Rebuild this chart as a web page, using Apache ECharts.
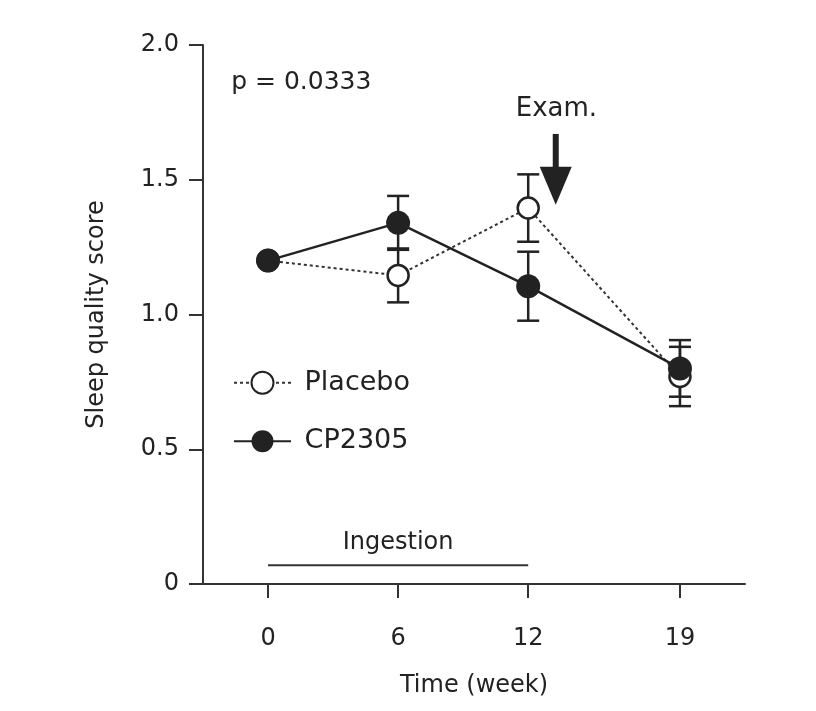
<!DOCTYPE html>
<html>
 <head>
  <title>Sleep quality score</title>
  <script src="https://cdn.jsdelivr.net/npm/echarts@6/dist/echarts.min.js"></script>
  <style>
    html, body, #container {
    width: 100%;
    height: 100%;
    margin: 0;
    padding: 0;
    background: #fff;
    }
  </style>
 </head>

<body>
  <div id="container"></div>
  <script>
    var weeks = [0, 6, 12, 19];
    var weekTicks = [0, 6, 12, 19];
    var placeboMean = [1.20, 1.145, 1.395, 0.77];
    var placeboSem = [0, 0.10, 0.125, 0.11];
    var cpMean = [1.20, 1.34, 1.105, 0.80];
    var cpSem = [0, 0.10, 0.128, 0.105];
    var ingestion = [[0, 0.07], [12, 0.07]];
    var arrowShaft = [[13.27, 1.67], [13.27, 1.52]];
    var arrowHead = [[13.27, 1.478]];

    var ink = '#222';
    var font = 'DejaVu Sans';

    function pairs(xs, ys) {
      return xs.map(function (x, i) { return [x, ys[i]]; });
    }
    function bars(xs, m, s) {
      return xs.map(function (x, i) { return [x, m[i] - s[i], m[i] + s[i]]; });
    }

    function errorBar(params, api) {
      var x = api.value(0), lo = api.value(1), hi = api.value(2);
      if (hi - lo <= 0) return null;
      var top = api.coord([x, hi]);
      var bot = api.coord([x, lo]);
      var w = 11;
      var st = { stroke: ink, lineWidth: 2.5 };
      return {
        type: 'group',
        children: [
          { type: 'line', shape: { x1: top[0], y1: top[1], x2: bot[0], y2: bot[1] }, style: st },
          { type: 'line', shape: { x1: top[0] - w, y1: top[1], x2: top[0] + w, y2: top[1] }, style: st },
          { type: 'line', shape: { x1: bot[0] - w, y1: bot[1], x2: bot[0] + w, y2: bot[1] }, style: st }
        ]
      };
    }

    function note(x, y, text, size, pos) {
      return {
        value: [x, y],
        label: { show: true, formatter: text, position: pos, distance: 0, fontSize: size, fontFamily: font, color: ink }
      };
    }

    var chart = echarts.init(document.getElementById('container'));

    var option = {
      animation: false,
      backgroundColor: '#fff',
      textStyle: { fontFamily: font, color: ink },
      grid: { left: 203, right: 71, top: 45, bottom: 127, outerBoundsMode: 'none' },
      legend: {
        data: ['Placebo', 'CP2305'],
        orient: 'vertical',
        left: 233,
        top: 356,
        padding: 0,
        itemWidth: 57,
        itemHeight: 27.5,
        itemGap: 5,
        formatter: function (n) { return ' ' + n; },
        textStyle: { fontFamily: font, fontSize: 27, color: ink }
      },
      xAxis: {
        type: 'value',
        min: -3,
        max: 22,
        name: 'Time (week)',
        nameLocation: 'middle',
        nameGap: 78,
        nameMoveOverlap: false,
        nameTextStyle: { fontFamily: font, fontSize: 24, color: ink },
        splitLine: { show: false },
        axisLine: { onZero: false, lineStyle: { color: '#333', width: 2 } },
        axisTick: { customValues: weekTicks, length: 14, lineStyle: { color: '#333', width: 2 } },
        axisLabel: { customValues: weekTicks, margin: 31, fontFamily: font, fontSize: 24, color: ink }
      },
      yAxis: {
        type: 'value',
        min: 0,
        max: 2,
        interval: 0.5,
        name: 'Sleep quality score',
        nameLocation: 'middle',
        nameGap: 82,
        nameTextStyle: { fontFamily: font, fontSize: 24, color: ink },
        splitLine: { show: false },
        axisLine: { show: true, onZero: false, lineStyle: { color: '#333', width: 2 } },
        axisTick: { show: true, length: 14, lineStyle: { color: '#333', width: 2 } },
        axisLabel: {
          margin: 24, fontFamily: font, fontSize: 24, color: ink,
          formatter: function (v) { return v === 0 ? '0' : v.toFixed(1); }
        }
      },
      series: [
        {
          name: 'placeboErr',
          type: 'custom',
          renderItem: errorBar,
          data: bars(weeks, placeboMean, placeboSem),
          z: 1
        },
        {
          name: 'cpErr',
          type: 'custom',
          renderItem: errorBar,
          data: bars(weeks, cpMean, cpSem),
          z: 1
        },
        {
          name: 'Placebo',
          type: 'line',
          data: pairs(weeks, placeboMean),
          symbol: 'circle',
          symbolSize: 21,
          showAllSymbol: true,
          lineStyle: { color: '#333', width: 2, type: [3, 3] },
          itemStyle: { color: '#fff', borderColor: ink, borderWidth: 2.5 },
          z: 3
        },
        {
          name: 'CP2305',
          type: 'line',
          data: pairs(weeks, cpMean),
          symbol: 'circle',
          symbolSize: 24,
          lineStyle: { color: ink, width: 2.5 },
          itemStyle: { color: ink },
          z: 4
        },
        {
          name: 'Ingestion',
          type: 'line',
          data: ingestion,
          symbol: 'none',
          lineStyle: { color: '#333', width: 2 },
          z: 2
        },
        {
          name: 'arrowShaft',
          type: 'line',
          data: arrowShaft,
          symbol: 'none',
          lineStyle: { color: ink, width: 6 },
          z: 2
        },
        {
          name: 'arrowHead',
          type: 'scatter',
          data: arrowHead,
          symbol: 'triangle',
          symbolRotate: 180,
          symbolSize: [32, 38],
          itemStyle: { color: ink, opacity: 1 },
          z: 2
        },
        {
          name: 'notes',
          type: 'scatter',
          symbolSize: 0,
          silent: true,
          itemStyle: { opacity: 1 },
          data: [
            note(-1.7, 1.86, 'p = 0.0333', 25, 'right'),
            note(13.3, 1.76, 'Exam.', 26, 'inside'),
            note(6, 0.152, 'Ingestion', 24, 'inside')
          ],
          z: 5
        }
      ]
    };

    chart.setOption(option);
  </script>
</body>
</html>
